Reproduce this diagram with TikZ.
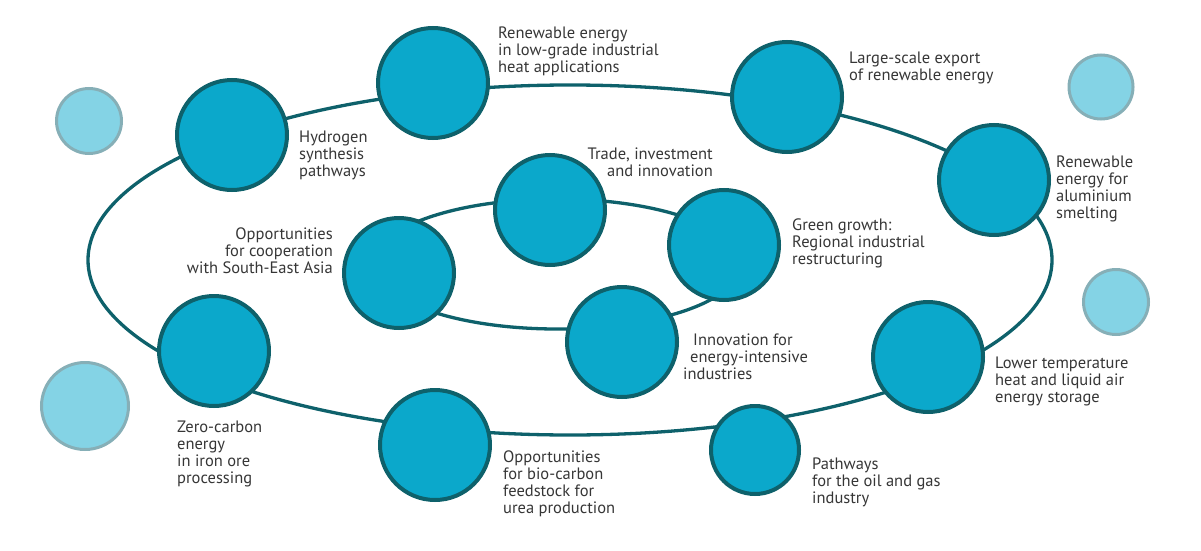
\documentclass[tikz,border=0pt]{standalone}
\usepackage{fontspec}
\setmainfont{PT Sans}

\definecolor{ringc}{HTML}{0E616B}
\definecolor{discc}{HTML}{0BA8CB}
\definecolor{palec}{HTML}{84D3E5}
\definecolor{paleb}{HTML}{86AFB7}
\definecolor{txtc}{HTML}{363636}

\tikzset{
  disc/.style={circle, draw=ringc, fill=discc, line width=4pt, minimum size=110pt, inner sep=0pt},
  pale/.style={circle, draw=paleb, fill=palec, line width=3pt, inner sep=0pt},
  lbl/.style={align=left, anchor=base west, inner sep=0pt, text=txtc, font=\fontsize{16.5}{17}\selectfont},
  rlbl/.style={lbl, align=right, anchor=base east},
  ring/.style={draw=ringc, line width=3.3pt}
}

\begin{document}
\begin{tikzpicture}[x=1pt,y=-1pt]
  \useasboundingbox (0,0) rectangle (1201,551);
  % anells
  \coordinate (outerc) at (570,260);
  \coordinate (innerc) at (557,264);
  \draw[ring] (outerc) ellipse [x radius=482, y radius=175];
  \draw[ring] (innerc) ellipse [x radius=184, y radius=65];

  % cercles decoratius
  \node[pale, minimum size=65pt] (palenw) at (89,121) {};
  \node[pale, minimum size=64pt] (palene) at (1101,87) {};
  \node[pale, minimum size=65pt] (palee) at (1116,302) {};
  \node[pale, minimum size=87pt] (palesw) at (85,406) {};

  % anell exterior
  \node[disc] (hyd) at (232,135) {};
  \node[disc] (lowgrade) at (433,83) {};
  \node[disc] (export) at (787,97) {};
  \node[disc] (alu) at (994,180) {};
  \node[disc] (lowtemp) at (928,357) {};
  \node[disc, minimum size=88pt] (oilgas) at (755,450) {};
  \node[disc] (bio) at (435,445) {};
  \node[disc] (zero) at (214,351) {};

  % anell interior
  \node[disc] (opp) at (399,273) {};
  \node[disc] (trade) at (550,210) {};
  \node[disc] (green) at (724,245) {};
  \node[disc] (innov) at (622,342) {};

  % etiquetes (base = darrera linia)
  \node[lbl] (hydlbl) at (299,176) {Hydrogen\\synthesis\\pathways};
  \node[lbl] (lowgradelbl) at (498,72) {Renewable energy\\in low-grade industrial\\heat applications};
  \node[lbl] (exportlbl) at (849,80) {Large-scale export\\of renewable energy};
  \node[lbl] (alulbl) at (1056,218) {Renewable\\energy for\\aluminium\\smelting};
  \node[lbl] (lowtemplbl) at (995,402) {Lower temperature\\heat and liquid air\\energy storage};
  \node[lbl] (oilgaslbl) at (812,503) {Pathways\\for the oil and gas\\industry};
  \node[lbl] (biolbl) at (503,513) {Opportunities\\for bio-carbon\\feedstock for\\urea production};
  \node[lbl] (zerolbl) at (177,483) {Zero-carbon\\energy\\in iron ore\\processing};
  \node[rlbl] (opplbl) at (333,273) {Opportunities\\for cooperation\\with South-East Asia};
  \node[rlbl] (tradelbl) at (713,176) {Trade, investment\\and innovation};
  \node[lbl] (greenlbl) at (792,264) {Green growth:\\Regional industrial\\restructuring};
  \node[lbl] (innovlbl) at (683,379) {\hspace*{10pt}Innovation for\\\hspace*{7pt}energy-intensive\\industries};
\end{tikzpicture}
\end{document}
